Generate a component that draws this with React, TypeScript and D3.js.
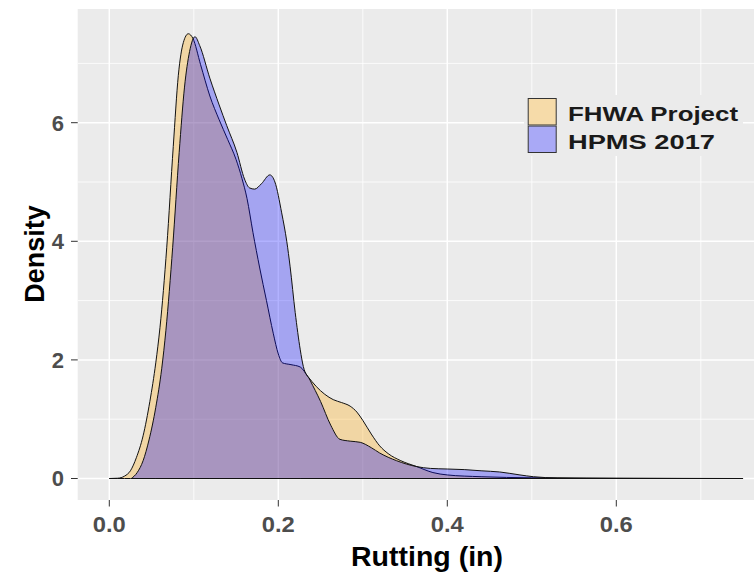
import React from "react";
import * as d3 from "d3";

const fhwaX = [0, 0.01, 0.018, 0.025, 0.032, 0.04, 0.048, 0.055, 0.06, 0.068, 0.0757, 0.0817, 0.0876, 0.0935, 0.099, 0.108, 0.119, 0.13, 0.14, 0.15, 0.157, 0.163, 0.17, 0.178, 0.186, 0.194, 0.2, 0.205, 0.215, 0.226, 0.235, 0.245, 0.255, 0.265, 0.275, 0.285, 0.293, 0.3, 0.31, 0.32, 0.33, 0.345, 0.364, 0.383, 0.4, 0.44, 0.5, 0.6, 0.68, 0.75];
const fhwaY = [0, 0.005, 0.04, 0.13, 0.35, 0.72, 1.3, 1.95, 2.55, 3.9, 5.6, 6.8, 7.35, 7.5, 7.42, 6.98, 6.45, 6.05, 5.72, 5.38, 5.06, 4.72, 4.15, 3.55, 3.0, 2.45, 2.1, 1.95, 1.92, 1.88, 1.72, 1.55, 1.42, 1.33, 1.28, 1.22, 1.12, 0.98, 0.75, 0.55, 0.42, 0.3, 0.2, 0.1, 0.06, 0.03, 0.012, 0.004, 0.002, 0];

const hpmsX = [0.026, 0.033, 0.04, 0.047, 0.055, 0.062, 0.067, 0.075, 0.0827, 0.089, 0.095, 0.1014, 0.107, 0.119, 0.13, 0.139, 0.151, 0.16, 0.166, 0.172, 0.18, 0.19, 0.196, 0.204, 0.21, 0.214, 0.22, 0.226, 0.2296, 0.2375, 0.25, 0.262, 0.273, 0.285, 0.297, 0.31, 0.32, 0.34, 0.364, 0.38, 0.4, 0.42, 0.44, 0.462, 0.486, 0.502, 0.53, 0.6, 0.68];
const hpmsY = [0, 0.1, 0.3, 0.65, 1.2, 1.85, 2.5, 3.9, 5.5, 6.6, 7.2, 7.45, 7.3, 6.75, 6.3, 5.95, 5.5, 5.05, 4.9, 4.88, 4.97, 5.12, 5.0, 4.48, 4.0, 3.57, 2.8, 2.17, 1.89, 1.66, 1.3, 0.9, 0.66, 0.63, 0.61, 0.52, 0.43, 0.3, 0.2, 0.17, 0.16, 0.15, 0.13, 0.11, 0.06, 0.03, 0.01, 0.003, 0];

const seriesNames = ["FHWA Project", "HPMS 2017"];
const seriesColors = ["#FFA500", "#0000FF"];
const xTicks = [0, 0.2, 0.4, 0.6];
const xMinor = [0.1, 0.3, 0.5, 0.7];
const yTicks = [0, 2, 4, 6];
const yMinor = [1, 3, 5, 7];

const PANEL = { left: 77.7, right: 754, top: 9, bottom: 500 };

export default function App() {
  const x = d3.scaleLinear().domain([0, 0.6]).range([109.3, 616.3]);
  const y = d3.scaleLinear().domain([0, 6]).range([478.5, 122.7]);
  const area = d3
    .area<[number, number]>()
    .x((d) => x(d[0]))
    .y0(() => y(0))
    .y1((d) => y(d[1]))
    .curve(d3.curveMonotoneX);

  const series = [
    fhwaX.map((v, i) => [v, fhwaY[i]] as [number, number]),
    hpmsX.map((v, i) => [v, hpmsY[i]] as [number, number]),
  ];

  const font = "'Liberation Sans', Arial, sans-serif";

  return (
    <svg
      width={754}
      height={573}
      style={{ position: "absolute", left: 0, top: 0, background: "#fff" }}
    >
      <defs>
        <clipPath id="panel">
          <rect x={PANEL.left} y={PANEL.top} width={PANEL.right - PANEL.left} height={PANEL.bottom - PANEL.top} />
        </clipPath>
      </defs>
      <rect x={PANEL.left} y={PANEL.top} width={PANEL.right - PANEL.left} height={PANEL.bottom - PANEL.top} fill="#EBEBEB" />
      <g clipPath="url(#panel)">
        {xMinor.map((t) => (
          <line key={"xm" + t} x1={x(t)} x2={x(t)} y1={PANEL.top} y2={PANEL.bottom} stroke="#fff" strokeWidth={0.8} />
        ))}
        {yMinor.map((t) => (
          <line key={"ym" + t} y1={y(t)} y2={y(t)} x1={PANEL.left} x2={PANEL.right} stroke="#fff" strokeWidth={0.8} />
        ))}
        {xTicks.map((t) => (
          <line key={"xM" + t} x1={x(t)} x2={x(t)} y1={PANEL.top} y2={PANEL.bottom} stroke="#fff" strokeWidth={1.5} />
        ))}
        {yTicks.map((t) => (
          <line key={"yM" + t} y1={y(t)} y2={y(t)} x1={PANEL.left} x2={PANEL.right} stroke="#fff" strokeWidth={1.5} />
        ))}
        {series.map((s, i) => (
          <path
            key={seriesNames[i]}
            d={area(s) || ""}
            fill={seriesColors[i]}
            fillOpacity={0.3}
            stroke="#111"
            strokeWidth={1}
            strokeLinejoin="round"
          />
        ))}
      </g>

      {/* Legend */}
      <rect x={524} y={95} width={219} height={61} fill="#EBEBEB" />
      {seriesNames.map((name, i) => {
        const ky = 98 + i * 27.5;
        return (
          <g key={"lg" + name}>
            <rect x={527.7} y={ky} width={29} height={27.5} fill="#F2F2F2" />
            <rect
              x={528.2}
              y={ky + 0.5}
              width={28}
              height={26.5}
              fill={seriesColors[i]}
              fillOpacity={0.3}
              stroke="#333"
              strokeWidth={1}
            />
            <text
              x={568}
              y={ky + 23}
              fontFamily={font}
              fontWeight="bold"
              fontSize={21}
              fill="#1a1a1a"
              textLength={i === 0 ? 170 : 147}
              lengthAdjust="spacingAndGlyphs"
            >
              {name}
            </text>
          </g>
        );
      })}

      {/* Y axis */}
      {yTicks.map((t) => (
        <g key={"yt" + t}>
          <line x1={71} x2={PANEL.left} y1={y(t)} y2={y(t)} stroke="#333" strokeWidth={1} />
          <text
            x={64}
            y={y(t)}
            dy="0.36em"
            textAnchor="end"
            fontFamily={font}
            fontWeight="bold"
            fontSize={22}
            fill="#4D4D4D"
          >
            {d3.format("d")(t)}
          </text>
        </g>
      ))}
      {/* X axis */}
      {xTicks.map((t) => (
        <g key={"xt" + t}>
          <line x1={x(t)} x2={x(t)} y1={PANEL.bottom} y2={PANEL.bottom + 6.5} stroke="#333" strokeWidth={1} />
          <text
            x={x(t)}
            y={532}
            textAnchor="middle"
            fontFamily={font}
            fontWeight="bold"
            fontSize={22}
            fill="#4D4D4D"
            textLength={33}
            lengthAdjust="spacingAndGlyphs"
          >
            {d3.format(".1f")(t)}
          </text>
        </g>
      ))}
      <text
        x={427}
        y={566}
        textAnchor="middle"
        fontFamily={font}
        fontWeight="bold"
        fontSize={27}
        fill="#000"
        textLength={152}
        lengthAdjust="spacingAndGlyphs"
      >
        Rutting (in)
      </text>
      <text
        transform="translate(44,254) rotate(-90)"
        textAnchor="middle"
        fontFamily={font}
        fontWeight="bold"
        fontSize={27}
        fill="#000"
      >
        Density
      </text>
    </svg>
  );
}
